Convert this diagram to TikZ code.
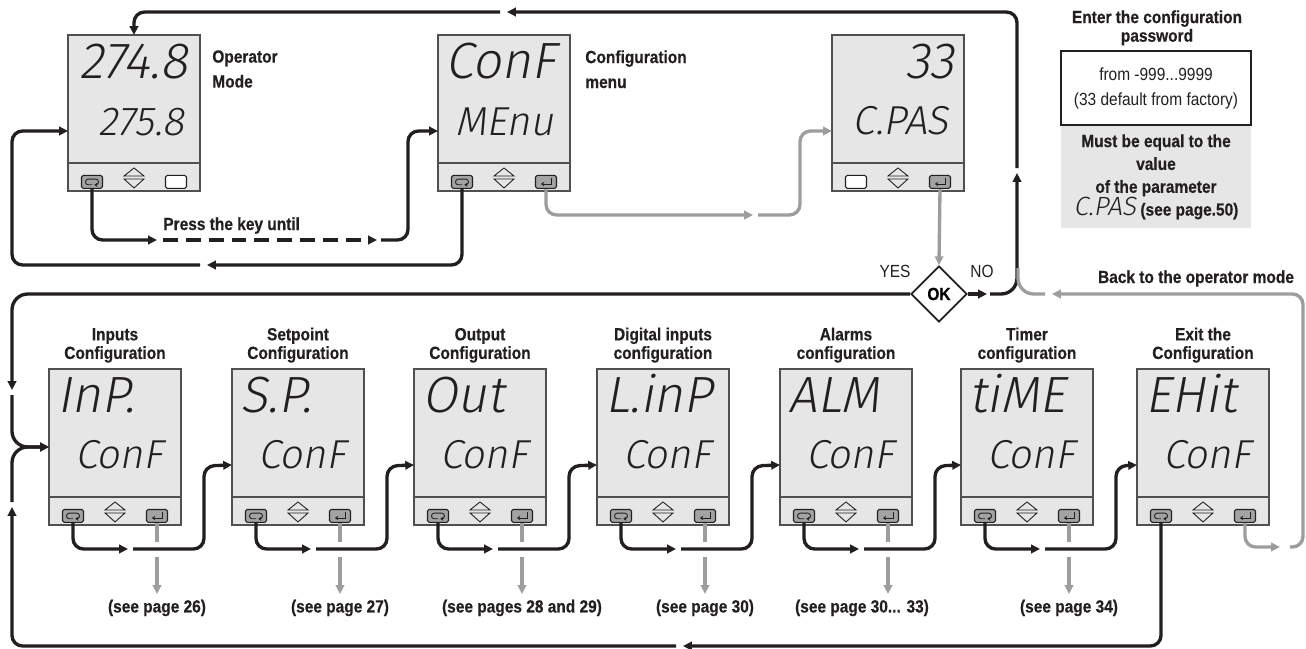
\documentclass[tikz,border=0pt]{standalone}
\usepackage{fontspec}
\setmainfont{Liberation Sans}[FakeStretch=0.88, BoldFeatures={FakeBold=0.5}]
\newfontfamily\lcdfont{Fira Sans Light}[FakeSlant=0.18]
\usepackage{tikz}
\usetikzlibrary{arrows.meta, positioning, calc, shapes.geometric}
\usepackage{xcolor}
\definecolor{lcdgrey}{HTML}{E6E6E7}
\definecolor{lcdedge}{HTML}{505050}
\definecolor{keygrey}{HTML}{A3A3A3}
\definecolor{wiregrey}{HTML}{9D9D9D}
\definecolor{inkblack}{HTML}{231F20}

\begin{document}
\begin{tikzpicture}[
    x=0.02cm, y=0.02cm,
    lcd/.style={rectangle, draw=lcdedge, line width=0.8pt, fill=lcdgrey,
                minimum width=2.64cm, minimum height=3.12cm, anchor=north west,
                inner sep=0pt, outer sep=0pt},
    bigdigits/.style={font=\lcdfont\fontsize{29}{29}\selectfont, inner sep=0pt,
                      text=inkblack},
    smalldigits/.style={font=\lcdfont\fontsize{23}{23}\selectfont, inner sep=0pt,
                        text=inkblack},
    key/.style={rectangle, draw=inkblack, line width=0.6pt, rounded corners=1pt,
                minimum width=0.42cm, minimum height=0.26cm, inner sep=0pt},
    wire/.style={draw=inkblack, line width=1.9pt, rounded corners=6pt},
    greywire/.style={wire, draw=wiregrey},
    arr/.style={-{Triangle[length=5pt, width=4.8pt]}},
    head/.style={font=\bfseries\fontsize{10}{10.6}\selectfont, align=center,
                 inner sep=0pt, text=inkblack},
    tag/.style={font=\bfseries\fontsize{10}{14.2}\selectfont, align=left,
                inner sep=0pt, text=inkblack},
    note/.style={font=\fontsize{10}{14.2}\selectfont, align=center,
                 inner sep=0pt, text=inkblack},
    decision/.style={diamond, draw=inkblack, line width=1pt, fill=white,
                     aspect=1, inner sep=0pt, minimum size=1.12cm,
                     font=\bfseries\fontsize{10}{10}\selectfont}
  ]
  \useasboundingbox (0,0) rectangle (1306,-649);

  % displays
  \node[lcd] (opmode) at (68,-35) {};
  \node[lcd] (confmenu) at (438,-35) {};
  \node[lcd] (cpas) at (832,-35) {};
  \foreach \dsp/\xx in {inp/49, setp/232, outc/414, dinp/597, alrm/780,
                        timer/961, exitc/1137}
    \node[lcd] (\dsp) at (\xx,-369) {};

  % key strip
  \foreach \dsp/\lfill/\rfill in {opmode/keygrey/white, confmenu/keygrey/keygrey,
      cpas/white/keygrey, inp/keygrey/keygrey, setp/keygrey/keygrey,
      outc/keygrey/keygrey, dinp/keygrey/keygrey, alrm/keygrey/keygrey,
      timer/keygrey/keygrey, exitc/keygrey/keygrey} {
    \draw[lcdedge, line width=0.8pt] ($(\dsp.south west)+(0,28)$)
      -- ($(\dsp.south east)+(0,28)$);
    \draw[inkblack, line width=0.5pt]
      ($(\dsp.south west)+(56,15)$) -- ++(10,8) -- ++(10,-8) -- cycle
      ($(\dsp.south west)+(56,12)$) -- ++(10,-9) -- ++(10,9) -- cycle;
    \node[key, fill=\lfill] (\dsp-lk) at ($(\dsp.south west)+(24,9)$) {};
    \node[key, fill=\rfill] (\dsp-rk) at ($(\dsp.south west)+(108,9)$) {};
  }
  \foreach \k in {opmode-lk, confmenu-lk, inp-lk, setp-lk, outc-lk, dinp-lk,
                  alrm-lk, timer-lk, exitc-lk}
    \draw[inkblack, line width=0.5pt, rounded corners=1.5pt,
          -{Stealth[length=1.6pt, width=2.4pt]}]
      ($(\k)+(0,-2.8)$) -- ++(-6.5,0) -- ++(0,5.6) -- ++(13,0) -- ++(0,-5.6)
      -- ++(-4,0);
  \foreach \k in {confmenu-rk, cpas-rk, inp-rk, setp-rk, outc-rk, dinp-rk,
                  alrm-rk, timer-rk, exitc-rk}
    \draw[inkblack, line width=0.5pt, -{Stealth[length=1.8pt, width=2.6pt]}]
      ($(\k)+(5,3.5)$) -- ++(0,-5.5) -- ++(-10,0);

  % display texts
  \node[bigdigits, anchor=base east] (opmode-top)
    at ($(opmode.north east)+(-12,-43)$) {274.8};
  \node[smalldigits, anchor=base east] (opmode-bot)
    at ($(opmode.north east)+(-15,-100)$) {275.8};
  \node[bigdigits, anchor=base west] (confmenu-top)
    at ($(confmenu.north west)+(7,-43)$) {ConF};
  \node[smalldigits, anchor=base east] (confmenu-bot)
    at ($(confmenu.north east)+(-16,-100)$) {MEnu};
  \node[bigdigits, anchor=base east] (cpas-top)
    at ($(cpas.north east)+(-9,-43)$) {33};
  \node[smalldigits, anchor=base east] (cpas-bot)
    at ($(cpas.north east)+(-15,-99)$) {C.PAS};
  \foreach \dsp/\ltop in {inp/InP., setp/S.P., outc/Out, dinp/L.inP, alrm/ALM,
                          timer/tiME, exitc/EHit} {
    \node[bigdigits, anchor=base west] (\dsp-top)
      at ($(\dsp.north west)+(8,-43)$) {\ltop};
    \node[smalldigits, anchor=base east] (\dsp-bot)
      at ($(\dsp.north east)+(-18,-99)$) {ConF};
  }

  % labels
  \node[tag, anchor=north west] (opmode-label) at (212,-50) {Operator\\Mode};
  \node[tag, anchor=north west] (confmenu-label) at (585,-50)
    {Configuration\\menu};
  \node[head, anchor=base west] (press-label) at (163,-230)
    {Press the key until};
  \foreach \dsp/\lhead in {inp/{Inputs\\Configuration},
      setp/{Setpoint\\Configuration}, outc/{Output\\Configuration},
      dinp/{Digital inputs\\configuration}, alrm/{Alarms\\configuration},
      timer/{Timer\\configuration}, exitc/{Exit the\\Configuration}}
    \node[head, above=0.12cm of \dsp] (\dsp-head) {\lhead};
  \foreach \dsp/\lpage/\px in {inp/{(see page 26)}/108, setp/{(see page 27)}/108,
      outc/{(see pages 28 and 29)}/108, dinp/{(see page 30)}/108,
      alrm/{(see page 30... 33)}/82, timer/{(see page 34)}/108}
    \node[head] (\dsp-page) at ($(\dsp.south west)+(\px,-83)$) {\lpage};

  % password panel
  \node[head, anchor=north] (pw-title) at (1157,-10)
    {Enter the configuration\\password};
  \node[rectangle, fill=lcdgrey, minimum width=3.8cm, minimum height=2.06cm,
        anchor=north, inner sep=0pt, align=center, text=inkblack,
        font=\bfseries\fontsize{10}{13}\selectfont] (pw-rule) at (1156,-125)
    {Must be equal to the\\value\\of the parameter\\
     {\lcdfont\mdseries\fontsize{15}{13}\selectfont C.PAS} (see page.50)};
  \node[note, draw=inkblack, line width=1.2pt, fill=white,
        minimum width=3.8cm, minimum height=1.48cm] (pw-range) at (1156,-88)
    {from -999...9999\\(33 default from factory)};

  % decision
  \node[decision] (ok) at (939,-294) {OK};
  \node[note, anchor=base] (yes) at (895,-277) {YES};
  \node[note, anchor=base] (no) at (982,-277) {NO};
  \node[head, anchor=base] (back-label) at (1196,-283)
    {Back to the operator mode};

  % gaps in the connectors
  \coordinate (presstip) at (157,-240);
  \coordinate (dashgo) at (163,-240);
  \coordinate (dashtip) at (377,-240);
  \coordinate (pressgo) at (381,-240);
  \coordinate (menutip) at (207,-265);
  \coordinate (menugo) at (200,-265);
  \coordinate (passtip) at (753,-215);
  \coordinate (passgo) at (758,-215);
  \coordinate (notip) at (987,-294);
  \coordinate (nogo) at (990,-294);
  \coordinate (uptip) at (1017,-173);
  \coordinate (upgo) at (1017,-168);
  \coordinate (toptip) at (507,-12);
  \coordinate (topgo) at (500,-12);
  \coordinate (yestip) at (12,-390);
  \coordinate (yesgo) at (12,-395);
  \coordinate (looptip) at (12,-507);
  \coordinate (loopgo) at (12,-502);
  \coordinate (exittip) at (683,-646);
  \coordinate (exitgo) at (676,-646);
  \coordinate (rettip) at (1280,-547);
  \coordinate (retgo) at (1290,-547);
  \coordinate (backtip) at (1052,-294);
  \coordinate (backgo) at (1045,-294);

  % top row
  \draw[wire, arr] (opmode-lk.south) |- (presstip);
  \draw[wire, arr, dash pattern=on 8.5pt off 4.5pt] (dashgo) -- (dashtip);
  \draw[wire, arr] (pressgo) -| (408,-131) -- ($(confmenu.west)+(0,-18)$);
  \draw[wire, arr] (confmenu-lk.south) |- (menutip);
  \draw[wire, arr] (menugo) -| (12,-131) -- ($(opmode.west)+(0,-18)$);
  \draw[greywire, arr] (confmenu-rk.south) |- (passtip);
  \draw[greywire, arr] (passgo) -| (800,-131) -- ($(cpas.west)+(0,-18)$);
  \draw[greywire, arr] (cpas-rk.south) -- (ok.north);

  % password check
  \draw[wire, arr] (ok.east) -- (notip);
  \draw[wire, arr, rounded corners=9pt] (nogo) -| (uptip);
  \draw[wire, arr] (upgo) |- (toptip);
  \draw[wire, arr] (topgo) -| (opmode.north);
  \draw[greywire, rounded corners=9pt] (backgo) -| (1018,-268);
  \draw[wire, arr, rounded corners=9pt] (ok.west) -| (yestip);
  \draw[wire, arr, rounded corners=9pt] (yesgo) |- (inp.west);
  \draw[wire, arr, rounded corners=9pt] (loopgo) |- (inp.west);

  % bottom row
  \foreach \a/\b in {inp/setp, setp/outc, outc/dinp, dinp/alrm, alrm/timer,
                     timer/exitc} {
    \draw[wire, arr] (\a-lk.south) |- ($(\a.south west)+(79,-24)$);
    \draw[wire, arr] ($(\a.south west)+(84,-24)$) -| ($(\a.south west)+(155,59)$)
      -- ($(\b.west)+(0,-18)$);
  }
  \foreach \dsp in {inp, setp, outc, dinp, alrm, timer} {
    \draw[greywire] (\dsp-rk.south) -- ($(\dsp.south west)+(108,-17)$);
    \draw[greywire, arr] ($(\dsp.south west)+(108,-32)$) -- ++(0,-37);
  }
  \draw[wire, arr] (exitc-lk.south) |- (exittip);
  \draw[wire, arr] (exitgo) -| (looptip);
  \draw[greywire, arr] (exitc-rk.south) |- (rettip);
  \draw[greywire, arr] (retgo) -| (1303,-294) -- (backtip);
\end{tikzpicture}
\end{document}
